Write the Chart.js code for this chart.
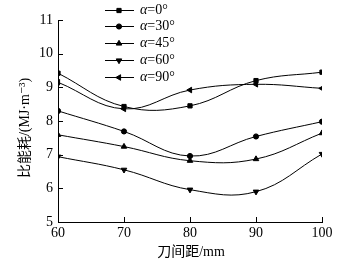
<!DOCTYPE html>
<html>
<head>
<meta charset="utf-8">
<script src="https://cdn.jsdelivr.net/npm/chart.js@4"></script>
<style>
  html, body { margin: 0; padding: 0; background: #fff; }
  #wrap { width: 337px; height: 264px; }
</style>
</head>
<body>
<div id="wrap"><canvas id="can" width="337" height="264"></canvas></div>
<script>
// spacing between knives (mm)
const spacing = [60, 70, 80, 90, 100];
// specific energy consumption, MJ/m3, one list per angle
const a0  = [9.42, 8.43, 8.45, 9.20, 9.45];
const a30 = [8.30, 7.69, 6.96, 7.54, 7.98];
const a45 = [7.59, 7.24, 6.82, 6.87, 7.64];
const a60 = [6.94, 6.55, 5.96, 5.90, 7.02];
const a90 = [9.15, 8.36, 8.92, 9.09, 8.97];
const legendNames = ['0°', '30°', '45°', '60°', '90°'];
const yTicks = [5, 6, 7, 8, 9, 10, 11];

const serif = '"Liberation Serif", "DejaVu Serif", "Noto Sans CJK SC", serif';

function ds(vals, style, rot, r) {
    return {
        data: vals,
        borderColor: '#000',
        backgroundColor: '#000',
        borderWidth: 1,
        pointStyle: style,
        pointRotation: rot,
        pointRadius: r,
        pointBorderWidth: 1,
        tension: 0.4,
        fill: false
    };
}

// inward ticks, axis titles and the legend
const extras = {
    id: 'extras',
    afterDraw(chart) {
        const ctx = chart.ctx;
        const xs = chart.scales.x, ys = chart.scales.y;
        const area = chart.chartArea;
        ctx.save();
        ctx.strokeStyle = '#000';
        ctx.lineWidth = 1;
        ctx.beginPath();
        spacing.forEach(v => {
            const px = Math.round(xs.getPixelForValue(v)) + 0.5;
            ctx.moveTo(px, area.bottom);
            ctx.lineTo(px, area.bottom - 5);
        });
        yTicks.forEach(v => {
            const py = Math.round(ys.getPixelForValue(v)) + 0.5;
            ctx.moveTo(area.left, py);
            ctx.lineTo(area.left + 5, py);
        });
        ctx.stroke();

        ctx.fillStyle = '#000';
        ctx.font = '14px ' + serif;
        ctx.textAlign = 'center';
        ctx.textBaseline = 'middle';
        ctx.fillText('刀间距/mm', 191, 252);
        ctx.save();
        ctx.translate(25, 128);
        ctx.rotate(-Math.PI / 2);
        ctx.fillText('比能耗/(MJ·m⁻³)', 0, 0);
        ctx.restore();

        const rows = [10, 26, 43, 60, 77];
        chart.data.datasets.forEach((d, i) => {
            const y = rows[i] + 0.5;
            ctx.beginPath();
            ctx.moveTo(105, y);
            ctx.lineTo(134, y);
            ctx.stroke();
            Chart.helpers.drawPoint(ctx, {
                pointStyle: d.pointStyle,
                rotation: d.pointRotation,
                radius: d.pointRadius,
                borderWidth: 1
            }, 119, y);
            ctx.textAlign = 'left';
            ctx.font = 'italic 14px ' + serif;
            ctx.fillText('α', 140, y);
            const w = ctx.measureText('α').width;
            ctx.font = '14px ' + serif;
            ctx.fillText('=' + legendNames[i], 140 + w, y);
        });
        ctx.restore();
    }
};

const ctx = document.getElementById('can').getContext('2d');
new Chart(ctx, {
    type: 'line',
    data: {
        labels: spacing,
        datasets: [
            ds(a0, 'rect', 0, 3),
            ds(a30, 'circle', 0, 2.6),
            ds(a45, 'triangle', 0, 3.2),
            ds(a60, 'triangle', 180, 3.2),
            ds(a90, 'triangle', 270, 3.2)
        ]
    },
    options: {
        responsive: false,
        animation: false,
        layout: { padding: { top: 20, right: 15, left: 0, bottom: 0 } },
        plugins: { legend: { display: false }, tooltip: { enabled: false } },
        scales: {
            x: {
                type: 'linear',
                min: 60, max: 100,
                afterFit(s) { s.height = 42; },
                afterBuildTicks(s) { s.ticks = spacing.map(v => ({ value: v })); },
                grid: { display: false, drawTicks: false },
                border: { display: true, color: '#000', width: 1 },
                ticks: { color: '#000', padding: 3, font: { family: serif, size: 14 } }
            },
            y: {
                min: 5, max: 11,
                afterFit(s) { s.width = 58; },
                afterBuildTicks(s) { s.ticks = yTicks.map(v => ({ value: v })); },
                grid: { display: false, drawTicks: false },
                border: { display: true, color: '#000', width: 1 },
                ticks: { color: '#000', padding: 5, font: { family: serif, size: 14 } }
            }
        }
    },
    plugins: [extras]
});
</script>
</body>
</html>
